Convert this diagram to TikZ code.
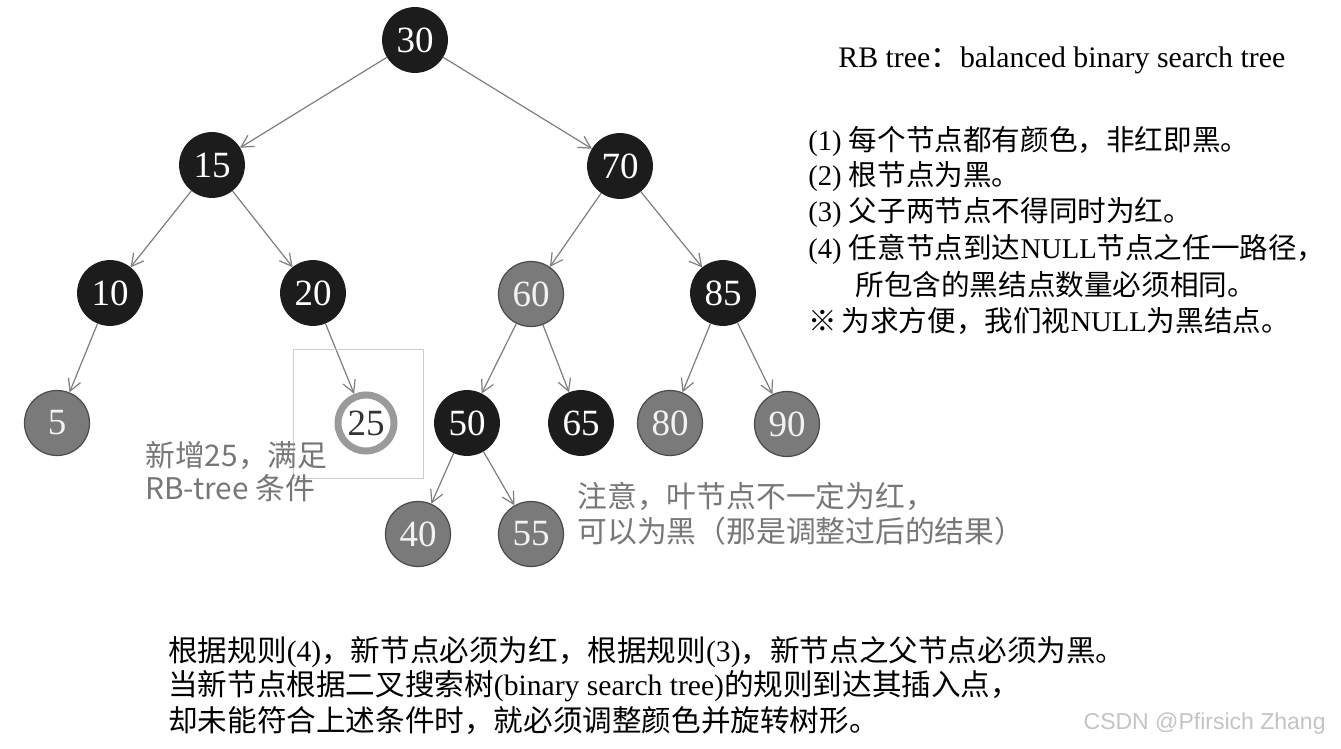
\documentclass[tikz,border=0pt]{standalone}
\usepackage{fontspec}
\setmainfont{Liberation Serif}
\setsansfont{Liberation Sans}
\newfontfamily\cjk{Noto Sans CJK SC}
\usetikzlibrary{arrows.meta}
\definecolor{blacknode}{HTML}{1C1C1C}
\definecolor{rednode}{HTML}{7A7A7A}
\definecolor{redrim}{HTML}{4A4A4A}
\definecolor{ringgray}{HTML}{9A9A9A}
\definecolor{edgegray}{HTML}{7E7E7E}
\definecolor{notegray}{HTML}{777777}
\definecolor{boxgray}{HTML}{CCCCCC}
\definecolor{markgray}{HTML}{C4C4C4}
\newcommand\numfont{\fontsize{18.5}{20}\selectfont}
\newcommand\rulefont{\fontsize{14.3}{18}\selectfont}
\newcommand\titlefont{\fontsize{14.9}{18}\selectfont}
\newcommand\bottomfont{\fontsize{14.8}{18}\selectfont}
\newcommand\notefont{\fontsize{14.9}{18}\selectfont}
\tikzset{
  rbnode/.style={circle,minimum size=32.5pt,inner sep=0pt,font=\numfont},
  blknd/.style={rbnode,fill=blacknode,draw=blacknode,text=white},
  rednd/.style={rbnode,fill=rednode,draw=redrim,line width=0.6pt,text=white!95!black},
  newnd/.style={rbnode,minimum size=28pt,fill=white,draw=ringgray,line width=3.5pt,outer sep=1.75pt,text=black!80},
  link/.style={draw=edgegray,line width=0.6pt,-{Straight Barb[length=6pt,width=6.5pt]}},
  txt/.style={anchor=west,inner sep=0pt},
  note/.style={txt,text=notegray,font=\notefont\cjk},
}

\begin{document}
\begin{tikzpicture}[x=0.5pt,y=-0.5pt]
\useasboundingbox (0,0) rectangle (1341,749);
\fill[white] (0,0) rectangle (1341,749);

% nodes of the tree
\node[blknd] (n30) at (415,40) {30};
\node[blknd] (n15) at (212,165) {15};
\node[blknd] (n70) at (620,166) {70};
\node[blknd] (n10) at (110,293) {10};
\node[blknd] (n20) at (313,293) {20};
\node[rednd] (n60) at (531,294) {60};
\node[blknd] (n85) at (723,293) {85};
\node[rednd] (n5) at (57,423) {5};
\node[newnd] (n25) at (366,423) {25};
\node[blknd] (n50) at (467,423) {50};
\node[blknd] (n65) at (581,423) {65};
\node[rednd] (n80) at (670,423) {80};
\node[rednd] (n90) at (787,424) {90};
\node[rednd] (n40) at (418,534) {40};
\node[rednd] (n55) at (531,534) {55};

\draw[link] (n30) -- (n15);
\draw[link] (n30) -- (n70);
\draw[link] (n15) -- (n10);
\draw[link] (n15) -- (n20);
\draw[link] (n70) -- (n60);
\draw[link] (n70) -- (n85);
\draw[link] (n10) -- (n5);
\draw[link] (n20) -- (n25);
\draw[link] (n60) -- (n50);
\draw[link] (n60) -- (n65);
\draw[link] (n85) -- (n80);
\draw[link] (n85) -- (n90);
\draw[link] (n50) -- (n40);
\draw[link] (n50) -- (n55);

% box round the new node
\draw[boxgray,line width=0.5pt] (293,350) rectangle (423,478);

% notes
\node[note] (add1) at (145,456) {新增25，满足};
\node[note] (add2) at (145,488) {RB-tree 条件};
\node[note] (leaf1) at (577,496) {注意，叶节点不一定为红，};
\node[note] (leaf2) at (577,531) {可以为黑（那是调整过后的结果）};

% rules
\node[txt,font=\titlefont] (title) at (838,60) {RB tree{\cjk ：}balanced binary search tree};
\node[txt,font=\rulefont] (r1) at (808,141) {(1) {\cjk 每个节点都有颜色，非红即黑。}};
\node[txt,font=\rulefont] (r2) at (808,177) {(2) {\cjk 根节点为黑。}};
\node[txt,font=\rulefont] (r3) at (808,213) {(3) {\cjk 父子两节点不得同时为红。}};
\node[txt,font=\rulefont] (r4) at (808,249) {(4) {\cjk 任意节点到达}NULL{\cjk 节点之任一路径，}};
\node[txt,font=\rulefont] (r4b) at (855,285) {\cjk 所包含的黑结点数量必须相同。};
\node[txt,font=\rulefont] (r5) at (808,321) {{\cjk ※}\,{\cjk 为求方便，我们视}NULL{\cjk 为黑结点。}};

% text below
\node[txt,font=\bottomfont] (b1) at (168,652) {{\cjk 根据规则}(4){\cjk ，新节点必须为红，根据规则}(3){\cjk ，新节点之父节点必须为黑。}};
\node[txt,font=\bottomfont] (b2) at (168,686) {{\cjk 当新节点根据二叉搜索树}(binary search tree){\cjk 的规则到达其插入点，}};
\node[txt,font=\bottomfont] (b3) at (168,721) {\cjk 却未能符合上述条件时，就必须调整颜色并旋转树形。};

% watermark
\node[anchor=east,inner sep=0pt,text=markgray,font=\fontsize{11.5}{14}\sffamily] (mark) at (1326,724) {CSDN @Pfirsich Zhang};
\end{tikzpicture}
\end{document}
